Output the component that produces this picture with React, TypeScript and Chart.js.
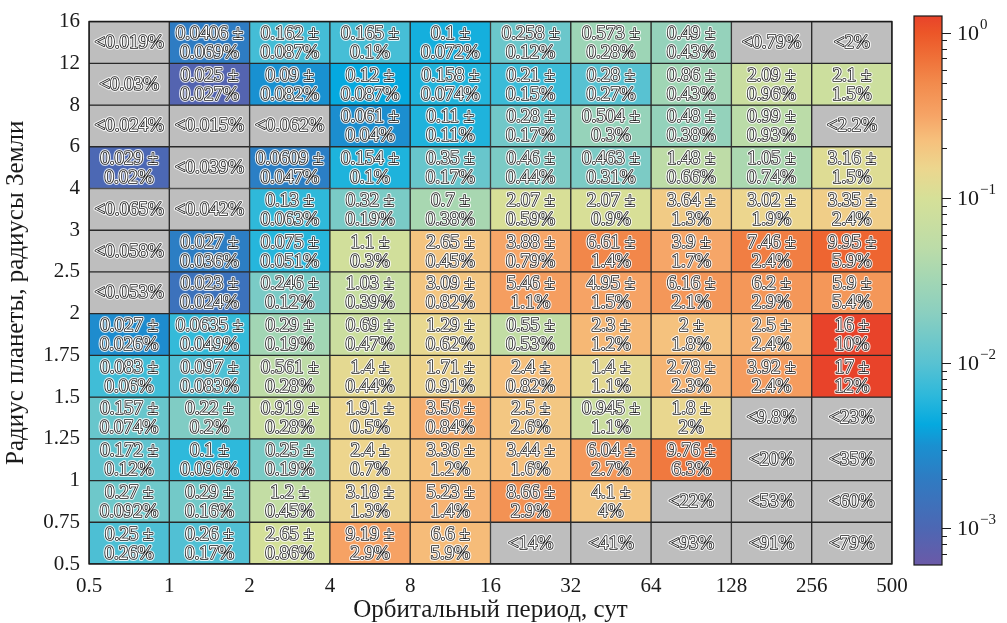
import React, { useEffect, useRef } from 'react';
import { Chart, registerables } from 'chart.js';

Chart.register(...registerables);

// Bin edges (orbital period, days; planet radius, Earth radii)
const periodEdges = [0.5, 1, 2, 4, 8, 16, 32, 64, 128, 256, 500];
const periodTickLabels = ['0.5', '1', '2', '4', '8', '16', '32', '64', '128', '256', '500'];
const radiusEdges = [0.5, 0.75, 1, 1.25, 1.5, 1.75, 2, 2.5, 3, 4, 6, 8, 12, 16];
const radiusTickLabels = ['0.5', '0.75', '1', '1.25', '1.5', '1.75', '2', '2.5', '3', '4', '6', '8', '12', '16'];

// Occurrence rate (%) per cell, rows from the bottom (0.5–0.75 R⊕) up.
// null value = only an upper limit is known; the matching err entry holds that limit.
const occ_R0_50 = [0.25, 0.26, 2.65, 9.19, 6.6, null, null, null, null, null];
const err_R0_50 = [0.26, 0.17, 0.86, 2.9, 5.9, 14, 41, 93, 91, 79];
const occ_R0_75 = [0.27, 0.29, 1.2, 3.18, 5.23, 8.66, 4.1, null, null, null];
const err_R0_75 = [0.092, 0.16, 0.45, 1.3, 1.4, 2.9, 4, 22, 53, 60];
const occ_R1_00 = [0.172, 0.1, 0.25, 2.4, 3.36, 3.44, 6.04, 9.76, null, null];
const err_R1_00 = [0.12, 0.096, 0.19, 0.7, 1.2, 1.6, 2.7, 6.3, 20, 35];
const occ_R1_25 = [0.157, 0.22, 0.919, 1.91, 3.56, 2.5, 0.945, 1.8, null, null];
const err_R1_25 = [0.074, 0.2, 0.28, 0.5, 0.84, 2.6, 1.1, 2, 9.8, 23];
const occ_R1_50 = [0.083, 0.097, 0.561, 1.4, 1.71, 2.4, 1.4, 2.78, 3.92, 17];
const err_R1_50 = [0.06, 0.083, 0.28, 0.44, 0.91, 0.82, 1.1, 2.3, 2.4, 12];
const occ_R1_75 = [0.027, 0.0635, 0.29, 0.69, 1.29, 0.55, 2.3, 2, 2.5, 16];
const err_R1_75 = [0.026, 0.049, 0.19, 0.47, 0.62, 0.53, 1.2, 1.8, 2.4, 10];
const occ_R2_00 = [null, 0.023, 0.246, 1.03, 3.09, 5.46, 4.95, 6.16, 6.2, 5.9];
const err_R2_00 = [0.053, 0.024, 0.12, 0.39, 0.82, 1.1, 1.5, 2.1, 2.9, 5.4];
const occ_R2_50 = [null, 0.027, 0.075, 1.1, 2.65, 3.88, 6.61, 3.9, 7.46, 9.95];
const err_R2_50 = [0.058, 0.036, 0.051, 0.3, 0.45, 0.79, 1.4, 1.7, 2.4, 5.9];
const occ_R3_00 = [null, null, 0.13, 0.32, 0.7, 2.07, 2.07, 3.64, 3.02, 3.35];
const err_R3_00 = [0.065, 0.042, 0.063, 0.19, 0.38, 0.59, 0.9, 1.3, 1.9, 2.4];
const occ_R4_00 = [0.029, null, 0.0609, 0.154, 0.35, 0.46, 0.463, 1.48, 1.05, 3.16];
const err_R4_00 = [0.02, 0.039, 0.047, 0.1, 0.17, 0.44, 0.31, 0.66, 0.74, 1.5];
const occ_R6_00 = [null, null, null, 0.061, 0.11, 0.28, 0.504, 0.48, 0.99, null];
const err_R6_00 = [0.024, 0.015, 0.062, 0.04, 0.11, 0.17, 0.3, 0.38, 0.93, 2.2];
const occ_R8_00 = [null, 0.025, 0.09, 0.12, 0.158, 0.21, 0.28, 0.86, 2.09, 2.1];
const err_R8_00 = [0.03, 0.027, 0.082, 0.087, 0.074, 0.15, 0.27, 0.43, 0.96, 1.5];
const occ_R12_0 = [null, 0.0406, 0.162, 0.165, 0.1, 0.258, 0.573, 0.49, null, null];
const err_R12_0 = [0.019, 0.069, 0.087, 0.1, 0.072, 0.12, 0.28, 0.43, 0.79, 2];

const occRows = [occ_R0_50, occ_R0_75, occ_R1_00, occ_R1_25, occ_R1_50, occ_R1_75, occ_R2_00,
  occ_R2_50, occ_R3_00, occ_R4_00, occ_R6_00, occ_R8_00, occ_R12_0];
const errRows = [err_R0_50, err_R0_75, err_R1_00, err_R1_25, err_R1_50, err_R1_75, err_R2_00,
  err_R2_50, err_R3_00, err_R4_00, err_R6_00, err_R8_00, err_R12_0];

// Colour bar (density per unit ln P per unit ln R)
const cbMin = 6.15e-4;
const cbMax = 1.266;
const cbStops: [number, string][] = [
  [-3.215, '#6a5aa8'],
  [-3.0, '#4d67b3'],
  [-2.7, '#2f7bc2'],
  [-2.5, '#1a90d0'],
  [-2.37, '#05a9df'],
  [-2.2, '#2cb8db'],
  [-2.0, '#58c2d2'],
  [-1.7, '#8acfc0'],
  [-1.5, '#a2d6b4'],
  [-1.3, '#bcdca8'],
  [-1.0, '#d6e098'],
  [-0.82, '#ecd68e'],
  [-0.65, '#f6c07c'],
  [-0.5, '#f6a466'],
  [-0.3, '#f28a4c'],
  [-0.15, '#ef7038'],
  [0.0, '#ec5628'],
  [0.103, '#e8432a'],
];
const limitColor = '#bebebe';
const serif = "'Liberation Serif', 'Times New Roman', serif";

function hexToRgb(h: string) {
  const n = parseInt(h.slice(1), 16);
  return [(n >> 16) & 255, (n >> 8) & 255, n & 255];
}
function cmap(v: number) {
  const lv = Math.log10(v);
  if (lv <= cbStops[0][0]) return cbStops[0][1];
  const last = cbStops[cbStops.length - 1];
  if (lv >= last[0]) return last[1];
  for (let i = 1; i < cbStops.length; i++) {
    if (lv <= cbStops[i][0]) {
      const [l0, c0] = cbStops[i - 1];
      const [l1, c1] = cbStops[i];
      const t = (lv - l0) / (l1 - l0);
      const a = hexToRgb(c0), b = hexToRgb(c1);
      const m = a.map((x, k) => Math.round(x + (b[k] - x) * t));
      return `rgb(${m[0]},${m[1]},${m[2]})`;
    }
  }
  return last[1];
}

type Cell = { x: number; y: [number, number]; occ: number | null; err: number; color: string };

function buildCells(): Cell[] {
  const cells: Cell[] = [];
  for (let r = 0; r < occRows.length; r++) {
    const dlnR = Math.log(radiusEdges[r + 1] / radiusEdges[r]);
    for (let c = 0; c < periodEdges.length - 1; c++) {
      const dlnP = Math.log(periodEdges[c + 1] / periodEdges[c]);
      const occ = occRows[r][c];
      const err = errRows[r][c];
      const color = occ === null ? limitColor : cmap(occ / 100 / (dlnR * dlnP));
      cells.push({ x: c + 0.5, y: [r, r + 1], occ, err, color });
    }
  }
  return cells;
}

const cellTextPlugin = {
  id: 'cellText',
  afterDatasetsDraw(chart: any) {
    const { ctx, scales, chartArea } = chart;
    const cells: Cell[] = chart.data.datasets[0].data;
    ctx.save();
    ctx.font = `19px ${serif}`;
    ctx.textAlign = 'center';
    ctx.textBaseline = 'middle';
    ctx.lineJoin = 'round';
    const draw = (s: string, x: number, y: number) => {
      ctx.lineWidth = 3.8;
      ctx.strokeStyle = 'rgba(255,255,255,0.8)';
      ctx.strokeText(s, x, y);
      ctx.lineWidth = 1.6;
      ctx.strokeStyle = '#1a1a1a';
      ctx.strokeText(s, x, y);
      ctx.fillStyle = '#ffffff';
      ctx.fillText(s, x, y);
    };
    for (const cell of cells) {
      const cx = scales.x.getPixelForValue(cell.x);
      const cy = scales.y.getPixelForValue(cell.y[0] + 0.5);
      if (cell.occ === null) {
        draw(`<${cell.err}%`, cx, cy + 0.5);
      } else {
        draw(`${cell.occ} ±`, cx, cy - 8.5);
        draw(`${cell.err}%`, cx, cy + 10.5);
      }
    }
    ctx.lineWidth = 1.5;
    ctx.strokeStyle = '#1a1a1a';
    ctx.strokeRect(chartArea.left, chartArea.top, chartArea.right - chartArea.left, chartArea.bottom - chartArea.top);
    ctx.restore();
  },
};

const colorbarPlugin = {
  id: 'colorbarFill',
  afterDraw(chart: any) {
    const { ctx, chartArea: a, scales } = chart;
    const y = scales.y;
    ctx.save();
    const g = ctx.createLinearGradient(0, a.bottom, 0, a.top);
    for (const [lv, col] of cbStops) {
      const p = (y.getPixelForValue(Math.pow(10, lv)) - a.bottom) / (a.top - a.bottom);
      g.addColorStop(Math.min(1, Math.max(0, p)), col);
    }
    ctx.fillStyle = g;
    ctx.fillRect(a.left, a.top, a.right - a.left, a.bottom - a.top);
    ctx.lineWidth = 1.2;
    ctx.strokeStyle = '#1a1a1a';
    ctx.strokeRect(a.left, a.top, a.right - a.left, a.bottom - a.top);
    ctx.fillStyle = '#1a1a1a';
    ctx.lineWidth = 1;
    for (let e = -4; e <= 0; e++) {
      for (let k = 1; k <= 9; k++) {
        const v = k * Math.pow(10, e);
        if (v < cbMin || v > cbMax) continue;
        const py = Math.round(y.getPixelForValue(v)) + 0.5;
        const len = k === 1 ? 9 : 5;
        ctx.beginPath();
        ctx.moveTo(a.right, py);
        ctx.lineTo(a.right + len, py);
        ctx.stroke();
        if (k === 1) {
          ctx.textAlign = 'left';
          ctx.textBaseline = 'middle';
          ctx.font = `22px ${serif}`;
          const bx = a.right + 15;
          ctx.fillText('10', bx, py + 1);
          const w = ctx.measureText('10').width;
          ctx.font = `15px ${serif}`;
          ctx.fillText(e === 0 ? '0' : `\u2212${-e}`, bx + w + 1, py - 8);
        }
      }
    }
    ctx.restore();
  },
};

export default function App() {
  const mainRef = useRef<HTMLCanvasElement>(null);
  const cbRef = useRef<HTMLCanvasElement>(null);

  useEffect(() => {
    document.body.style.margin = '0';
    const tickFont = { family: serif, size: 21 };
    const titleFont = { family: serif, size: 25, lineHeight: 1 };
    const main = new Chart(mainRef.current!, {
      type: 'bar',
      data: {
        datasets: [
          {
            data: buildCells() as any,
            backgroundColor: (c: any) => (c.raw ? c.raw.color : limitColor),
            borderColor: '#2a2a2a',
            borderWidth: 1,
            borderSkipped: false,
            barPercentage: 1,
            categoryPercentage: 1,
          } as any,
        ],
      },
      options: {
        animation: false,
        responsive: false,
        devicePixelRatio: 1,
        layout: { padding: { left: 0, top: 16, right: 115, bottom: 0 } },
        plugins: { legend: { display: false }, tooltip: { enabled: false } },
        scales: {
          x: {
            type: 'linear',
            offset: false,
            min: 0,
            max: periodEdges.length - 1,
            grid: { display: false, drawTicks: false, offset: false },
            border: { display: false },
            ticks: {
              stepSize: 1,
              autoSkip: false,
              maxRotation: 0,
              padding: 10,
              color: '#1a1a1a',
              font: tickFont,
              callback: (v: any) => periodTickLabels[v] ?? '',
            },
            title: {
              display: true,
              text: 'Орбитальный период, сут',
              color: '#1a1a1a',
              font: titleFont,
              padding: { top: 0, bottom: 0 },
            },
            afterFit: (s: any) => { s.height = 59; },
          },
          y: {
            type: 'linear',
            offset: false,
            min: 0,
            max: radiusEdges.length - 1,
            grid: { display: false, drawTicks: false },
            border: { display: false },
            ticks: {
              stepSize: 1,
              autoSkip: false,
              padding: 9,
              color: '#1a1a1a',
              font: tickFont,
              callback: (v: any) => radiusTickLabels[v] ?? '',
            },
            title: {
              display: true,
              text: 'Радиус планеты, радиусы Земли',
              color: '#1a1a1a',
              font: titleFont,
              padding: { top: 4, bottom: 0 },
            },
            afterFit: (s: any) => { s.width = 89; },
          },
        },
      } as any,
      plugins: [cellTextPlugin],
    });

    const cb = new Chart(cbRef.current!, {
      type: 'scatter',
      data: { datasets: [] },
      options: {
        animation: false,
        responsive: false,
        devicePixelRatio: 1,
        layout: { padding: { left: 914, right: 65, top: 16, bottom: 58 } },
        plugins: { legend: { display: false }, tooltip: { enabled: false } },
        scales: {
          x: { type: 'linear', display: false, min: 0, max: 1 },
          y: { type: 'logarithmic', display: false, min: cbMin, max: cbMax },
        },
      } as any,
      plugins: [colorbarPlugin],
    });

    return () => {
      main.destroy();
      cb.destroy();
    };
  }, []);

  return (
    <div style={{ position: 'relative', width: 1007, height: 623, background: '#fff' }}>
      <canvas ref={mainRef} width={1007} height={623} style={{ position: 'absolute', left: 0, top: 0 }} />
      <canvas ref={cbRef} width={1007} height={623} style={{ position: 'absolute', left: 0, top: 0 }} />
    </div>
  );
}
